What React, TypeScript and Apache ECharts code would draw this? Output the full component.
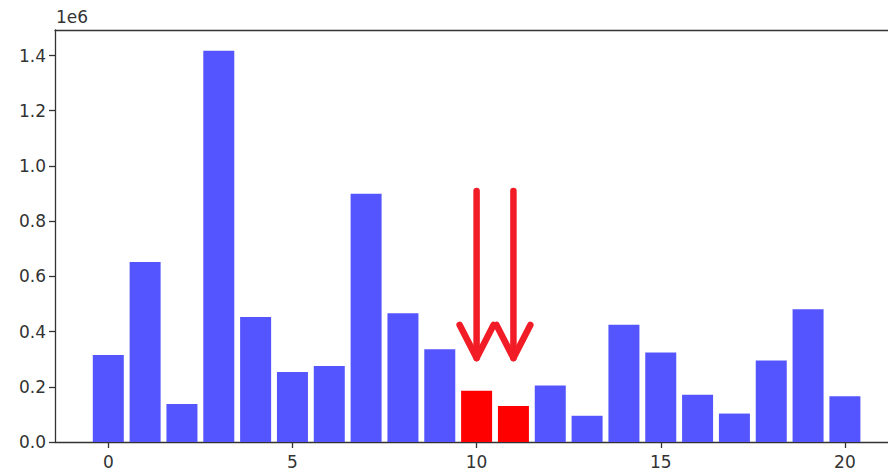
import React, { useEffect, useRef } from "react";
import * as echarts from "echarts";

const positions = [0, 1, 2, 3, 4, 5, 6, 7, 8, 9, 10, 11, 12, 13, 14, 15, 16, 17, 18, 19, 20];
const values = [
  315000, 652000, 138000, 1417000, 453000, 254000, 275000, 899000, 466000, 336000,
  186000, 130000, 205000, 95000, 425000, 324000, 171000, 103000, 295000, 481000, 166000,
];
const highlighted = [10, 11];
const xTicks = [0, 5, 10, 15, 20];
const yTicks = [0, 200000, 400000, 600000, 800000, 1000000, 1200000, 1400000];
const arrowTop = 909000;
const arrowTip = 304000;
const arrowArm = 424000;

const BLUE = "#5555ff";
const RED = "#ff0000";
const ARROW = "#f21c26";
const AXIS = "#333333";
const FONT = "DejaVu Sans";

export default function App() {
  const ref = useRef<HTMLDivElement>(null);
  useEffect(() => {
    if (!ref.current) return;
    const chart = echarts.init(ref.current, undefined, { renderer: "svg" });
    const xMin = -1.447;
    const xMax = 21.17;
    chart.setOption({
      animation: false,
      grid: { left: 55, right: 0, top: 30, bottom: 32, show: false },
      xAxis: [
        {
          type: "value",
          min: xMin,
          max: xMax,
          position: "bottom",
          splitLine: { show: false },
          axisLine: { show: true, onZero: false, lineStyle: { color: AXIS, width: 1.3 } },
          axisTick: { show: true, customValues: xTicks, length: 6, lineStyle: { color: AXIS, width: 1.3 } },
          axisLabel: {
            customValues: xTicks,
            margin: 11,
            color: "#333",
            fontFamily: FONT,
            fontSize: 17,
          },
        },
        {
          type: "value",
          min: xMin,
          max: xMax,
          position: "top",
          splitLine: { show: false },
          axisLine: { show: true, onZero: false, lineStyle: { color: AXIS, width: 1.3 } },
          axisTick: { show: false },
          axisLabel: { show: false },
        },
      ],
      yAxis: {
        type: "value",
        min: 0,
        max: 1492500,
        splitLine: { show: false },
        axisLine: { show: true, onZero: false, lineStyle: { color: AXIS, width: 1.3 } },
        axisTick: { show: true, customValues: yTicks, length: 6, lineStyle: { color: AXIS, width: 1.3 } },
        axisLabel: {
          customValues: yTicks,
          margin: 9,
          color: "#333",
          fontFamily: FONT,
          fontSize: 17,
          formatter: (v: number) => (v / 1e6).toFixed(1),
        },
      },
      series: [
        {
          type: "bar",
          xAxisIndex: 0,
          barWidth: 31,
          data: positions.map((p, i) => ({
            value: [p, values[i]],
            itemStyle: { color: highlighted.includes(p) ? RED : BLUE },
          })),
        },
      ],
    });

    const px = (x: number, y: number) => chart.convertToPixel({ gridIndex: 0 }, [x, y]) as number[];
    const arrows: any[] = [];
    highlighted.forEach((h) => {
      const top = px(h, arrowTop);
      const tip = px(h, arrowTip);
      const armL = px(h - 0.46, arrowArm);
      const armR = px(h + 0.46, arrowArm);
      const style = { stroke: ARROW, lineWidth: 6.5, lineCap: "round", lineJoin: "round", fill: null };
      arrows.push({ type: "polyline", shape: { points: [top, tip] }, style });
      arrows.push({ type: "polyline", shape: { points: [armL, tip, armR] }, style });
    });
    chart.setOption({
      graphic: [
        {
          type: "text",
          left: 56,
          top: 8,
          style: { text: "1e6", fontFamily: FONT, fontSize: 17, fill: "#333" },
        },
        ...arrows,
      ],
    });
    return () => chart.dispose();
  }, []);
  return <div ref={ref} style={{ width: 888, height: 474, position: "absolute", left: 0, top: 0 }} />;
}
